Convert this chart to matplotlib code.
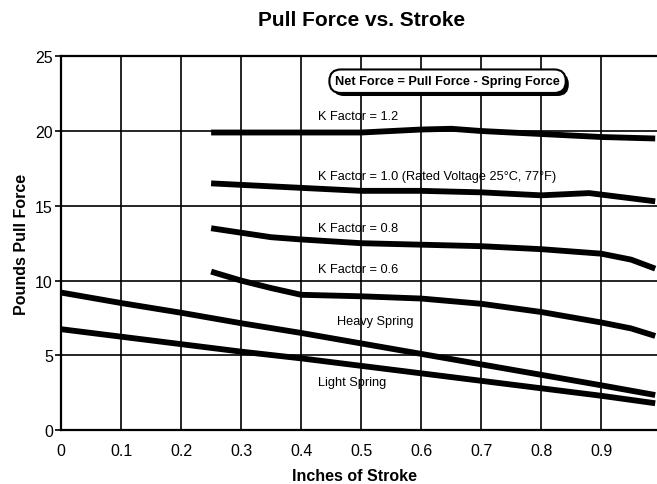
import matplotlib.pyplot as plt
import matplotlib.patheffects as pe

plt.rcParams['font.family'] = ['Liberation Sans', 'DejaVu Sans']

# Curve data
k12_x = [0.25, 0.3, 0.4, 0.5, 0.55, 0.6, 0.65, 0.7, 0.8, 0.9, 0.99]
k12_y = [19.9, 19.9, 19.9, 19.9, 20.0, 20.1, 20.15, 20.0, 19.8, 19.6, 19.5]
k10_x = [0.25, 0.3, 0.4, 0.5, 0.6, 0.7, 0.8, 0.88, 0.93, 0.99]
k10_y = [16.5, 16.4, 16.2, 16.0, 16.0, 15.9, 15.7, 15.85, 15.6, 15.3]
k08_x = [0.25, 0.3, 0.35, 0.4, 0.5, 0.6, 0.7, 0.8, 0.9, 0.95, 0.99]
k08_y = [13.5, 13.2, 12.9, 12.75, 12.5, 12.4, 12.3, 12.1, 11.8, 11.4, 10.8]
k06_x = [0.25, 0.3, 0.35, 0.4, 0.5, 0.6, 0.7, 0.8, 0.9, 0.95, 0.99]
k06_y = [10.6, 10.0, 9.5, 9.05, 8.95, 8.8, 8.45, 7.9, 7.2, 6.8, 6.3]
heavy_x = [0.0, 0.1, 0.2, 0.3, 0.4, 0.5, 0.6, 0.7, 0.8, 0.9, 0.99]
heavy_y = [9.2, 8.5, 7.85, 7.15, 6.5, 5.8, 5.1, 4.4, 3.7, 3.0, 2.35]
light_x = [0.0, 0.1, 0.2, 0.3, 0.4, 0.5, 0.6, 0.7, 0.8, 0.9, 0.99]
light_y = [6.75, 6.25, 5.75, 5.25, 4.8, 4.3, 3.8, 3.3, 2.8, 2.3, 1.8]

x_ticks = [0, 0.1, 0.2, 0.3, 0.4, 0.5, 0.6, 0.7, 0.8, 0.9]
x_labels = ["0", "0.1", "0.2", "0.3", "0.4", "0.5", "0.6", "0.7", "0.8", "0.9"]
y_ticks = [0, 5, 10, 15, 20, 25]

fig = plt.figure(figsize=(6.57, 4.85), dpi=100)
ax = fig.add_axes([0.093, 0.111, 0.907, 0.771])

ax.set_xlim(0, 0.993)
ax.set_ylim(0, 25)
ax.set_xticks(x_ticks)
ax.set_xticklabels(x_labels)
ax.set_yticks(y_ticks)
ax.grid(True, color='black', linewidth=1.2)
ax.set_axisbelow(True)
for side in ['left', 'bottom', 'top']:
    ax.spines[side].set_linewidth(1.6)
ax.spines['right'].set_visible(False)
ax.tick_params(axis='x', length=0, pad=9, labelsize=11.5)
ax.tick_params(axis='y', length=4, width=1.2, pad=2, labelsize=11.5)

for xs, ys in [(k12_x, k12_y), (k10_x, k10_y), (k08_x, k08_y),
               (k06_x, k06_y), (heavy_x, heavy_y), (light_x, light_y)]:
    ax.plot(xs, ys, color='black', linewidth=4.2, solid_capstyle='butt')

# Curve labels
lab = dict(fontsize=9.2, ha='left', va='center')
ax.text(0.428, 21.0, "K Factor = 1.2", **lab)
ax.text(0.428, 17.0, "K Factor = 1.0 (Rated Voltage 25°C, 77°F)", **lab)
ax.text(0.428, 13.5, "K Factor = 0.8", **lab)
ax.text(0.428, 10.8, "K Factor = 0.6", **lab)
ax.text(0.46, 7.3, "Heavy Spring", **lab)
ax.text(0.428, 3.2, "Light Spring", **lab)

# Boxed note with drop shadow
note = ax.text(0.644, 23.33, "Net Force = Pull Force - Spring Force", fontsize=9.2,
               fontweight='bold', ha='center', va='center',
               bbox=dict(boxstyle='round,pad=0.45,rounding_size=0.9', fc='white', ec='black', lw=1.5))
note.get_bbox_patch().set_path_effects([
    pe.SimplePatchShadow(offset=(2.2, -2.2), shadow_rgbFace='black', alpha=1.0),
    pe.Normal()])

fig.text(0.551, 0.957, "Pull Force vs. Stroke", fontsize=15, fontweight='bold', ha='center', va='center')
fig.text(0.54, 0.017, "Inches of Stroke", fontsize=11.5, fontweight='bold', ha='center', va='center')
ax.set_ylabel("Pounds Pull Force", fontsize=11.5, fontweight='bold', labelpad=4)

fig.savefig("out.png", dpi=100)
